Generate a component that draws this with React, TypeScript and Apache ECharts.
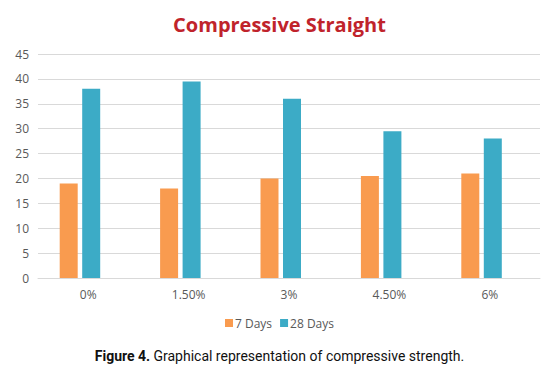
import React, { useEffect, useRef } from "react";
import * as echarts from "echarts";

const categories = ["0%", "1.50%", "3%", "4.50%", "6%"];
const days7 = [19, 18, 20, 20.5, 21];
const days28 = [38, 39.5, 36, 29.5, 28];
const yTicks = { min: 0, max: 45, interval: 5 };

export default function App() {
  const ref = useRef<HTMLDivElement>(null);
  useEffect(() => {
    const chart = echarts.init(ref.current!, null, { renderer: "svg" });
    chart.setOption({
      animation: false,
      title: {
        text: "Compressive Straight",
        left: "center",
        top: 9,
        textStyle: {
          color: "#C0232B",
          fontSize: 20,
          fontWeight: "bold",
          fontFamily: "Open Sans",
        },
      },
      legend: {
        bottom: 47,
        left: "center",
        itemWidth: 8,
        itemHeight: 8,
        itemGap: 8,
        icon: "rect",
        textStyle: { color: "#595959", fontSize: 12, fontFamily: "Open Sans", padding: [0, 0, 0, -3] },
        data: ["7 Days", "28 Days"],
      },
      grid: { left: 38, right: 19, top: 54, bottom: 103, containLabel: false },
      xAxis: {
        type: "category",
        data: categories,
        axisLine: { lineStyle: { color: "#D9D9D9" } },
        axisTick: { show: false },
        axisLabel: { color: "#595959", fontSize: 12, fontFamily: "Open Sans", margin: 10 },
      },
      yAxis: {
        type: "value",
        min: yTicks.min,
        max: yTicks.max,
        interval: yTicks.interval,
        axisLine: { show: false },
        axisTick: { show: false },
        splitLine: { lineStyle: { color: "#D9D9D9" } },
        axisLabel: { color: "#595959", fontSize: 12, fontFamily: "Open Sans", margin: 9 },
      },
      series: [
        {
          name: "7 Days",
          type: "bar",
          data: days7,
          barWidth: 18,
          barGap: "25%",
          itemStyle: { color: "#F99B4F" },
        },
        {
          name: "28 Days",
          type: "bar",
          data: days28,
          barWidth: 18,
          barGap: "25%",
          itemStyle: { color: "#3CABC6" },
        },
        {
          name: "",
          type: "bar",
          data: [],
          barWidth: 12,
          barGap: "25%",
        },
      ],
      graphic: [
        {
          type: "text",
          left: "center",
          top: 349,
          style: {
            text: "{b|Figure 4.} {n|Graphical representation of compressive strength.}",
            rich: {
              b: { fontWeight: "bold", fontSize: 14, fontFamily: "Roboto", fill: "#111" },
              n: { fontSize: 14, fontFamily: "Roboto", fill: "#111" },
            },
          },
        },
      ],
    });
    return () => chart.dispose();
  }, []);
  return <div ref={ref} style={{ width: 559, height: 381, position: "absolute", left: 0, top: 0 }} />;
}
